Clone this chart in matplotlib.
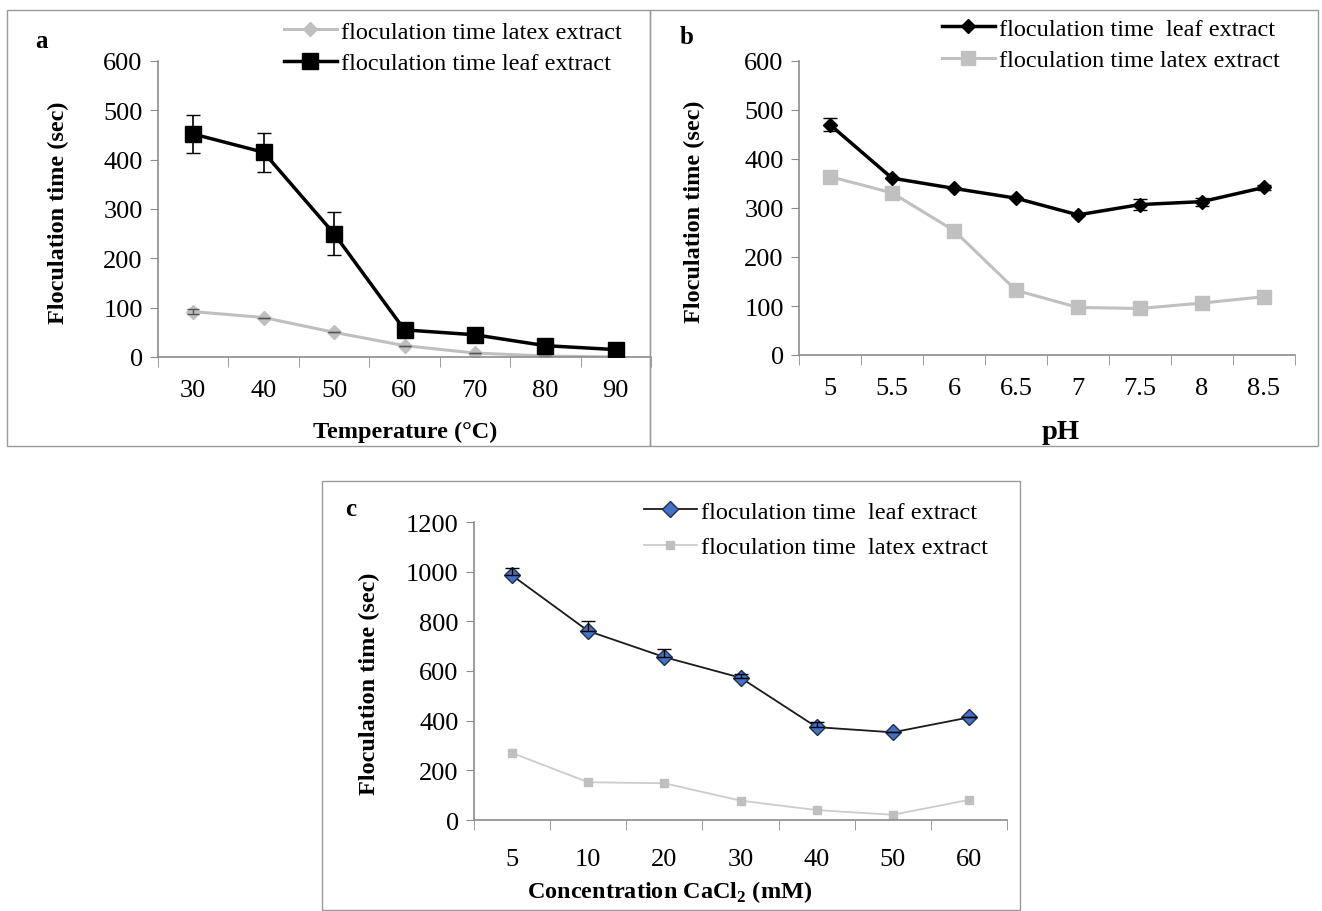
import matplotlib
matplotlib.use("Agg")
import matplotlib.pyplot as plt
from matplotlib.patches import Rectangle

plt.rcParams['font.family'] = ['Liberation Serif', 'DejaVu Serif']
plt.rcParams['mathtext.fontset'] = 'custom'
plt.rcParams['mathtext.rm'] = 'Liberation Serif'
plt.rcParams['mathtext.bf'] = 'Liberation Serif:bold'

# panel a: temperature
temp = ['30', '40', '50', '60', '70', '80', '90']
temp_latex = [92, 80, 50, 23, 8, 2, 0]
temp_leaf = [452, 415, 250, 55, 45, 23, 15]
temp_leaf_err = [39, 40, 43, 0, 0, 0, 0]
temp_latex_err = [5, 0, 0, 0, 0, 0, 0]

# panel b: pH
ph = ['5', '5.5', '6', '6.5', '7', '7.5', '8', '8.5']
ph_leaf = [470, 361, 340, 320, 286, 307, 313, 342]
ph_leaf_err = [13, 0, 0, 0, 0, 12, 8, 5]
ph_latex = [364, 331, 254, 132, 97, 95, 106, 119]

# panel c: CaCl2 concentration
conc = ['5', '10', '20', '30', '40', '50', '60']
conc_leaf = [985, 761, 656, 573, 374, 353, 413]
conc_leaf_err = [31, 40, 34, 16, 20, 0, 0]
conc_latex = [270, 152, 148, 78, 40, 21, 81]

W, H = 1322, 912
fig = plt.figure(figsize=(W / 100, H / 100), dpi=100)

GRAY = '#8c8c8c'
TICK_FS = 19
LAB_FS = 17.5
LEG_FS = 17.5


def px(x0, y0, x1, y1):
    return [x0 / W, 1 - y1 / H, (x1 - x0) / W, (y1 - y0) / H]


def style(ax, cats, ymax, ystep, pad=14):
    n = len(cats)
    ax.set_xlim(-0.5, n - 0.5)
    ax.set_ylim(0, ymax)
    ax.set_xticks(range(n))
    ax.set_xticklabels(cats, fontsize=TICK_FS)
    ax.set_xticks([i - 0.5 for i in range(n + 1)], minor=True)
    ax.tick_params(axis='x', which='major', length=0, pad=pad)
    ax.tick_params(axis='x', which='minor', length=7, color=GRAY, direction='out')
    ax.set_yticks(range(0, ymax + 1, ystep))
    ax.tick_params(axis='y', length=6, color=GRAY, labelsize=TICK_FS, pad=5)
    for s in ['top', 'right']:
        ax.spines[s].set_visible(False)
    for s in ['left', 'bottom']:
        ax.spines[s].set_color(GRAY)
        ax.spines[s].set_linewidth(1.2)


def legend(ax, handles, x, y, spacing):
    ax.legend(handles=handles, loc='upper left', bbox_to_anchor=(x / W, 1 - y / H),
              bbox_transform=fig.transFigure, frameon=False, fontsize=LEG_FS,
              handlelength=2.2, handletextpad=0.15, labelspacing=spacing, borderaxespad=0)


def labels(xlab, xpos, ylab_pos, size=LAB_FS):
    fig.text(xpos[0] / W, 1 - xpos[1] / H, xlab, fontsize=size, fontweight='bold',
             ha='center', va='center')
    fig.text(ylab_pos[0] / W, 1 - ylab_pos[1] / H, 'Floculation time (sec)', fontsize=LAB_FS,
             fontweight='bold', ha='center', va='center', rotation=90)


# borders of panels
for (x0, y0, x1, y1) in [(7, 11, 650, 447), (650, 11, 1318, 447), (322, 482, 1020, 911)]:
    fig.add_artist(Rectangle((x0 / W, 1 - y1 / H), (x1 - x0) / W, (y1 - y0) / H,
                             transform=fig.transFigure, fill=False, ec='#9a9a9a', lw=1))

# ---- panel a
ax = fig.add_axes(px(158, 62, 651, 358))
xa = range(len(temp))
la, = ax.plot(xa, temp_latex, color='#bfbfbf', lw=2.2, marker='D', ms=7,
              label='floculation time latex extract', zorder=2)
ax.errorbar(xa, temp_latex, yerr=temp_latex_err, fmt='none', ecolor='#555555',
            elinewidth=1, capsize=4, zorder=2)
lb, = ax.plot(xa, temp_leaf, color='black', lw=2.5, marker='s', ms=11,
              label='floculation time leaf extract', zorder=3)
ax.errorbar(xa, temp_leaf, yerr=temp_leaf_err, fmt='none', ecolor='black',
            elinewidth=1.2, capsize=5, zorder=3)
style(ax, temp, 600, 100, pad=16)
labels('Temperature (°C)', (405, 432), (58, 213))
legend(ax, [la, lb], 274, 12, 0.4)
fig.text(35 / W, 1 - 42 / H, 'a', fontsize=18, fontweight='bold', va='center')

# ---- panel b
ax = fig.add_axes(px(799, 62, 1295, 356))
xb = range(len(ph))
lb, = ax.plot(xb, ph_leaf, color='black', lw=2.5, marker='D', ms=7,
              label='floculation time  leaf extract', zorder=3)
ax.errorbar(xb, ph_leaf, yerr=ph_leaf_err, fmt='none', ecolor='black',
            elinewidth=1.2, capsize=5, zorder=3)
la, = ax.plot(xb, ph_latex, color='#c0c0c0', lw=2.2, marker='s', ms=10,
              label='floculation time latex extract', zorder=2)
style(ax, ph, 600, 100, pad=16)
labels('pH', (1061, 433), (694, 212), size=LAB_FS + 3)
legend(ax, [lb, la], 932, 9, 0.4)
fig.text(680 / W, 1 - 37 / H, 'b', fontsize=18, fontweight='bold', va='center')

# ---- panel c
ax = fig.add_axes(px(474, 523, 1007, 821))
xc = range(len(conc))
lb, = ax.plot(xc, conc_leaf, color='#1a1a1a', lw=1.3, marker='D', ms=8, mfc='#4472c4',
              mec='#1f2f4f', mew=1, label='floculation time  leaf extract', zorder=3)
ax.errorbar(xc, conc_leaf, yerr=[[0] * len(conc_leaf_err), conc_leaf_err], fmt='none',
            ecolor='black', elinewidth=1, capsize=5, zorder=3)
la, = ax.plot(xc, conc_latex, color='#cccccc', lw=1.3, marker='s', ms=6, mfc='#bfbfbf',
              mec='#bfbfbf', label='floculation time  latex extract', zorder=2)
style(ax, conc, 1200, 200, pad=20)
labels('Concentration CaCl$_{\\mathbf{2}}$ (mM)', (670, 892), (369, 684))
legend(ax, [lb, la], 634, 492, 0.55)
fig.text(345 / W, 1 - 510 / H, 'c', fontsize=18, fontweight='bold', va='center')

fig.savefig('out.png', dpi=100)
